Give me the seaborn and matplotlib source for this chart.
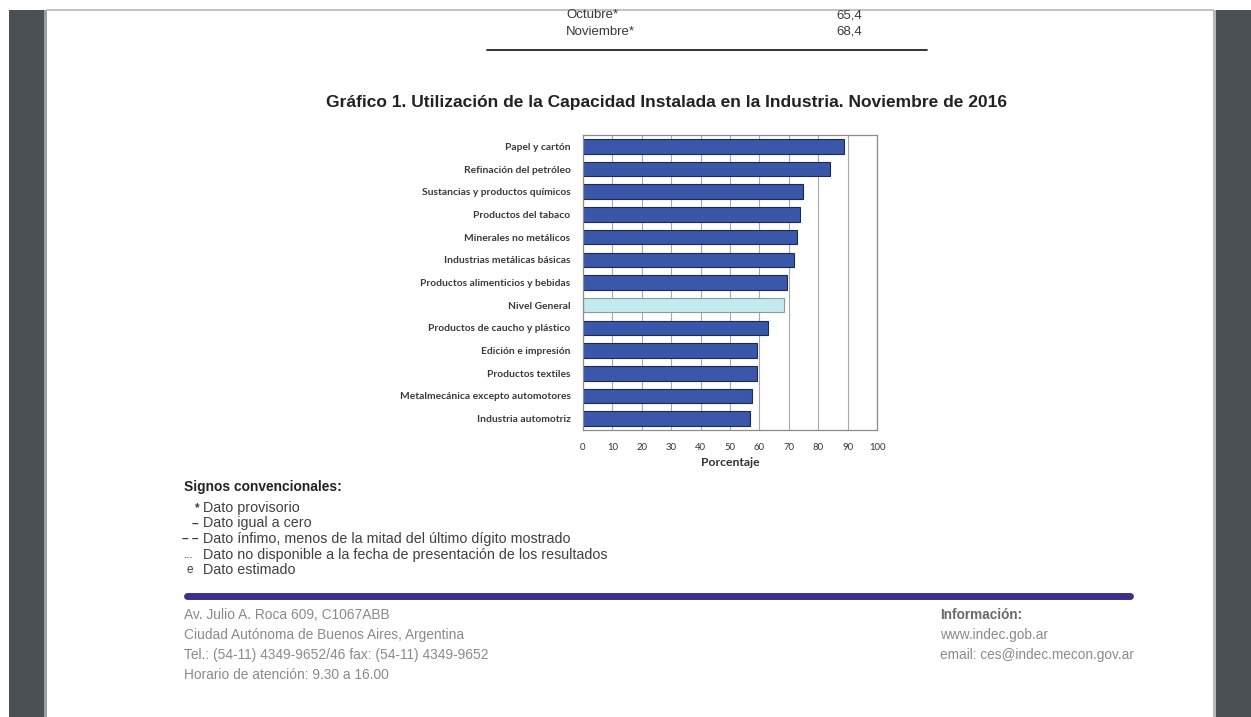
import matplotlib
matplotlib.use("Agg")
import matplotlib.pyplot as plt
import seaborn as sns
import pandas as pd
from matplotlib.patches import Rectangle
from matplotlib.lines import Line2D

# ---------------- data ----------------
categories = [
    "Papel y cartón",
    "Refinación del petróleo",
    "Sustancias y productos químicos",
    "Productos del tabaco",
    "Minerales no metálicos",
    "Industrias metálicas básicas",
    "Productos alimenticios y bebidas",
    "Nivel General",
    "Productos de caucho y plástico",
    "Edición e impresión",
    "Productos textiles",
    "Metalmecánica excepto automotores",
    "Industria automotriz",
]
values = [88.9, 84.1, 74.7, 73.9, 72.7, 71.8, 69.3, 68.4, 63.0, 59.1, 59.2, 57.6, 56.7]
x_ticks = [0, 10, 20, 30, 40, 50, 60, 70, 80, 90, 100]

table_months = ["Octubre*", "Noviembre*"]
table_values = ["65,4", "68,4"]

signos_symbols = ["*", "–", "– –", "...", "e"]
signos_texts = [
    "Dato provisorio",
    "Dato igual a cero",
    "Dato ínfimo, menos de la mitad del último dígito mostrado",
    "Dato no disponible a la fecha de presentación de los resultados",
    "Dato estimado",
]
footer_left = [
    "Av. Julio A. Roca 609, C1067ABB",
    "Ciudad Autónoma de Buenos Aires, Argentina",
    "Tel.: (54-11) 4349-9652/46 fax: (54-11) 4349-9652",
    "Horario de atención: 9.30 a 16.00",
]
footer_right = [
    "Información:",
    "www.indec.gob.ar",
    "email: ces@indec.mecon.gov.ar",
]

title = "Gráfico 1. Utilización de la Capacidad Instalada en la Industria. Noviembre de 2016"

# ---------------- figure ----------------
W, H = 1251, 717
sns.set_theme(style="white")
plt.rcParams["font.family"] = ["Liberation Sans", "DejaVu Sans"]

fig = plt.figure(figsize=(W / 100, H / 100), dpi=100)
fig.patch.set_facecolor("white")

def fx(x):
    return x / W

def fy(y):
    return 1 - y / H

GRAY = "#4b5055"
# side bars
fig.patches.append(Rectangle((fx(9), 0), fx(44) - fx(9), fy(10), transform=fig.transFigure,
                             facecolor=GRAY, edgecolor="none", zorder=0))
fig.patches.append(Rectangle((fx(44), 0), fx(3), fy(10), transform=fig.transFigure,
                             facecolor="#9a9ea2", edgecolor="none", zorder=0))
fig.patches.append(Rectangle((fx(1216), 0), fx(1251) - fx(1216), fy(10), transform=fig.transFigure,
                             facecolor=GRAY, edgecolor="none", zorder=0))
fig.patches.append(Rectangle((fx(1213), 0), fx(3), fy(10), transform=fig.transFigure,
                             facecolor="#b5b8bb", edgecolor="none", zorder=0))
# top page edge
fig.add_artist(Line2D([fx(47), fx(1213)], [fy(10), fy(10)], transform=fig.transFigure,
                      color="#b8b8b8", lw=1.2))

# header table
TXT = "#3a3a3a"
for i, (m, v) in enumerate(zip(table_months, table_values)):
    yy = fy(15 + 17 * i)
    fig.text(fx(566), yy, m, fontsize=9.5, color=TXT, va="center", ha="left")
    fig.text(fx(862), yy, v, fontsize=9.5, color=TXT, va="center", ha="right")
fig.add_artist(Line2D([fx(487), fx(927)], [fy(50), fy(50)], transform=fig.transFigure,
                      color="#222222", lw=1.3))

# title
fig.text(fx(667), fy(103), title, fontsize=12.5, fontweight="bold", color="#222222",
         ha="center", va="center")

# ---------------- chart ----------------
ax = fig.add_axes([fx(583), fy(430), fx(877) - fx(583), (430 - 135) / H])
df = pd.DataFrame({"cat": categories, "val": values})
palette = {c: ("#c4e9ee" if c == "Nivel General" else "#3b57aa") for c in categories}
sns.barplot(data=df, x="val", y="cat", hue="cat", palette=palette, legend=False,
            order=categories, width=0.64, edgecolor="#1c2a55", linewidth=0.8, ax=ax,
            saturation=1)
for p, c in zip(ax.patches, categories):
    if c == "Nivel General":
        p.set_edgecolor("#8a9a9c")

ax.set_xlim(0, 100)
ax.set_xticks(x_ticks)
ax.set_xticklabels([str(t) for t in x_ticks], fontsize=6.8, color="#333333",
                   family=["Lato", "DejaVu Sans"])
ax.grid(axis="x", color="#a8a8a8", lw=0.8)
ax.set_axisbelow(True)
for s in ax.spines.values():
    s.set_visible(True)
    s.set_color("#8c8c8c")
    s.set_linewidth(0.9)
ax.tick_params(axis="x", direction="out", length=3, width=0.8, color="#8c8c8c", pad=6)
ax.tick_params(axis="y", length=0, pad=9)
for lbl in ax.get_yticklabels():
    lbl.set_fontsize(7.4)
    lbl.set_family(["Lato", "DejaVu Sans"])
    lbl.set_fontweight("bold")
    lbl.set_color("#3a3a3a")
ax.set_ylabel("")
ax.set_xlabel("Porcentaje", fontsize=8.8, fontweight="bold", color="#333333",
              family=["Lato", "DejaVu Sans"], labelpad=4)

# ---------------- signos ----------------
fig.text(fx(184), fy(487), "Signos convencionales:", fontsize=9.9, fontweight="bold",
         color="#222222", va="center")
sym_cx = [197.5, 195, 190.5, 189, 190]
for i, (s, t) in enumerate(zip(signos_symbols, signos_texts)):
    yy = fy(508 + 15.5 * i)
    fig.text(fx(sym_cx[i]), yy, s, fontsize=8.5, color=TXT, va="center", ha="center",
             fontweight="bold" if i < 3 else "normal")
    fig.text(fx(203), yy, t, fontsize=10.3, color="#404040", va="center", ha="left")

# purple rule
fig.add_artist(Line2D([fx(187), fx(1130)], [fy(596), fy(596)], transform=fig.transFigure,
                      color="#3e2f8f", lw=5, solid_capstyle="round"))

# footer
FG = "#8a8a8a"
for i, t in enumerate(footer_left):
    fig.text(fx(184), fy(615 + 20 * i), t, fontsize=9.9, color=FG, va="center", ha="left")
for i, t in enumerate(footer_right):
    fig.text(fx(940), fy(615 + 20 * i), t, fontsize=9.8, color=("#6a6a6a" if i == 0 else FG),
             fontweight=("bold" if i == 0 else "normal"), va="center", ha="left")

fig.savefig("out.png", dpi=100, facecolor="white")
